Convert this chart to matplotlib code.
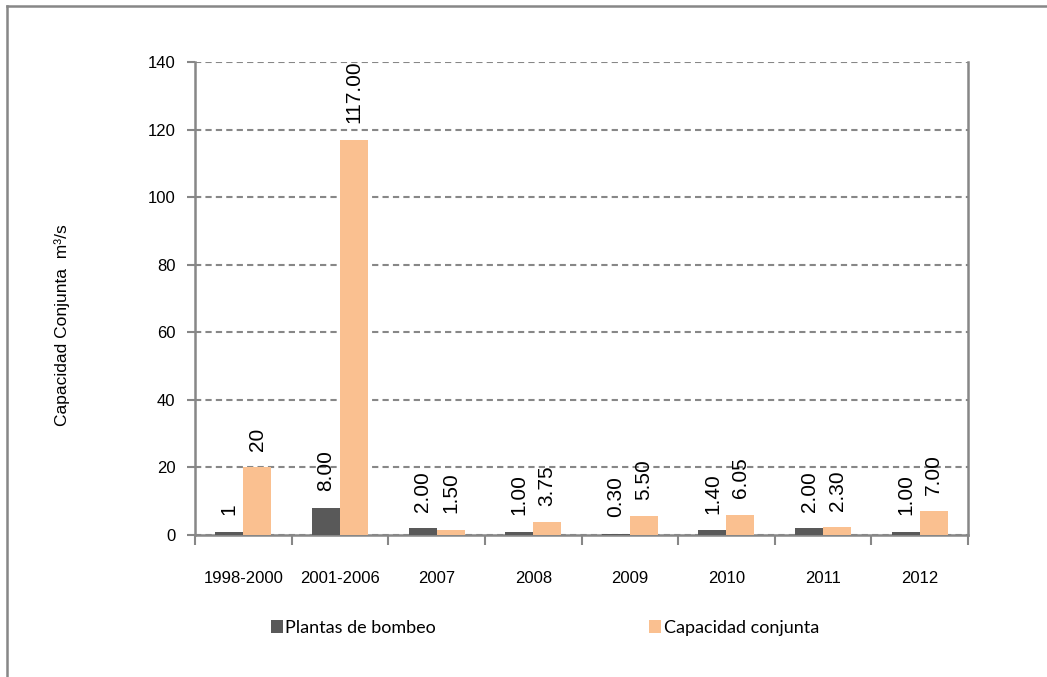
import matplotlib
matplotlib.use("Agg")
import matplotlib.pyplot as plt
import numpy as np
from matplotlib.lines import Line2D
from matplotlib.patches import Patch

# Data
categories = ["1998-2000", "2001-2006", "2007", "2008", "2009", "2010", "2011", "2012"]
plantas = [1, 8, 2, 1, 0.3, 1.4, 2, 1]
capacidad = [20, 117, 1.5, 3.75, 5.5, 6.05, 2.3, 7]
plantas_labels = ["1", "8.00", "2.00", "1.00", "0.30", "1.40", "2.00", "1.00"]
capacidad_labels = ["20", "117.00", "1.50", "3.75", "5.50", "6.05", "2.30", "7.00"]
series_names = ["Plantas de bombeo", "Capacidad conjunta"]
y_ticks = [0, 20, 40, 60, 80, 100, 120, 140]

DARK = "#595959"
ORANGE = "#FAC090"
AXIS_GRAY = "#878787"

plt.rcParams["font.family"] = ["Liberation Sans", "DejaVu Sans"]

fig = plt.figure(figsize=(10.47, 6.77), dpi=100)
ax = fig.add_axes([195 / 1047, 1 - 535 / 677, (968 - 195) / 1047, (535 - 62) / 677])

x = np.arange(len(categories))
w = 0.29
b1 = ax.bar(x - w / 2, plantas, w, color=DARK, zorder=3, label=series_names[0])
b2 = ax.bar(x + w / 2, capacidad, w, color=ORANGE, zorder=3, label=series_names[1])

for bars, labels in ((b1, plantas_labels), (b2, capacidad_labels)):
    for rect, lab in zip(bars, labels):
        ax.annotate(lab, (rect.get_x() + rect.get_width() / 2, rect.get_height()),
                    xytext=(0, 12), textcoords="offset points", rotation=90,
                    ha="center", va="bottom", fontsize=15, color="black", zorder=4)

ax.set_xlim(-0.5, len(categories) - 0.5)
ax.set_ylim(0, 140)
ax.set_yticks(y_ticks)
ax.set_yticklabels([str(t) for t in y_ticks], fontsize=12)
ax.tick_params(axis="y", direction="out", length=6, width=1.5, color=AXIS_GRAY, pad=8)

# category labels centred, tick marks at category boundaries
ax.set_xticks(x)
ax.set_xticklabels(categories, fontsize=12)
ax.tick_params(axis="x", which="major", length=0, pad=26)
ax.set_xticks(np.arange(-0.5, len(categories)), minor=True)
ax.tick_params(axis="x", which="minor", direction="out", length=7, width=1.5, color=AXIS_GRAY)

ax.yaxis.grid(True, linestyle=(0, (3, 2)), color=AXIS_GRAY, linewidth=1.5, zorder=0)
ax.set_axisbelow(True)
for side in ("left", "right", "bottom"):
    ax.spines[side].set_color(AXIS_GRAY)
    ax.spines[side].set_linewidth(1.8)
ax.spines["top"].set_visible(False)

fig.text(62 / 1047, 1 - 325 / 677, "Capacidad Conjunta  m³/s", rotation=90,
         ha="center", va="center", fontsize=12.5)

handles = [Patch(facecolor=DARK, edgecolor="none"), Patch(facecolor=ORANGE, edgecolor="none")]
fig.legend(handles, series_names, loc="center", bbox_to_anchor=(545 / 1047, 1 - 628 / 677),
           ncol=2, frameon=False, handlelength=0.65, handleheight=0.7, handletextpad=0.15,
           columnspacing=11.8, prop={"family": "Lato", "size": 13})

# outer chart frame
fig.add_artist(Line2D([7 / 1047, 7 / 1047], [0, 1 - 6 / 677], transform=fig.transFigure,
                      color=AXIS_GRAY, linewidth=1.8))
fig.add_artist(Line2D([7 / 1047, 1], [1 - 6 / 677, 1 - 6 / 677], transform=fig.transFigure,
                      color=AXIS_GRAY, linewidth=1.8))

fig.savefig("out.png", dpi=100, facecolor="white")
